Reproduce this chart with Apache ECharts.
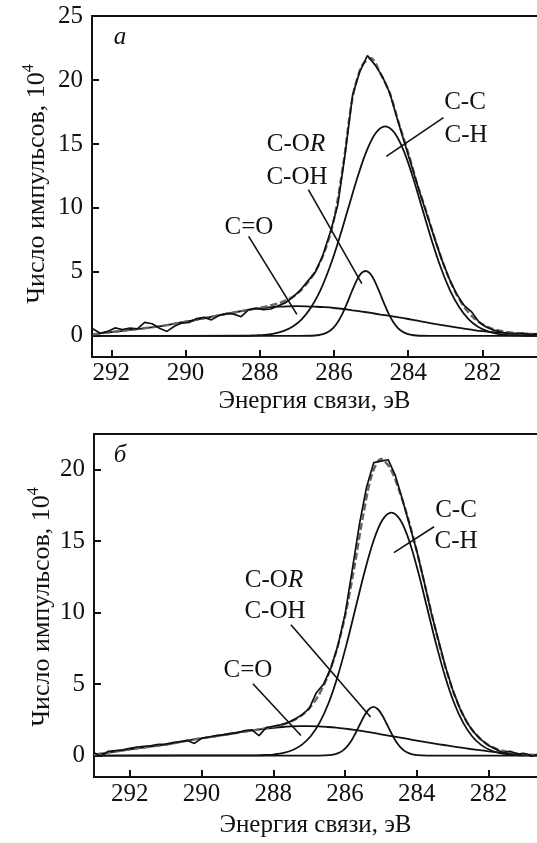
<!DOCTYPE html>
<html>
<head>
<meta charset="utf-8">
<script src="https://cdn.jsdelivr.net/npm/echarts@6/dist/echarts.min.js"></script>
<style>
  html, body { margin: 0; padding: 0; background: #fff; }
  #chart { width: 537px; height: 843px; }
</style>
</head>
<body>
<div id="chart"></div>
<script>
// ---- panel a ----
// broad C=O component and fitted envelope share one grid (eV)
const energyA = [292.5, 292.25, 292, 291.75, 291.5, 291.25, 291, 290.75, 290.5, 290.25, 290,
  289.75, 289.5, 289.25, 289, 288.75, 288.5, 288.25, 288, 287.75, 287.5, 287.25, 287,
  286.75, 286.5, 286.25, 286, 285.75, 285.5, 285.25, 285, 284.75, 284.5, 284.25, 284,
  283.75, 283.5, 283.25, 283, 282.75, 282.5, 282.25, 282, 281.75, 281.5, 281.25, 281,
  280.75, 280.5];
const coA = [0.12, 0.21, 0.30, 0.38, 0.47, 0.55, 0.64, 0.73, 0.84, 0.98, 1.11, 1.24, 1.38,
  1.52, 1.66, 1.80, 1.93, 2.05, 2.15, 2.23, 2.28, 2.31, 2.32, 2.31, 2.28, 2.24, 2.18, 2.10,
  2.00, 1.90, 1.79, 1.67, 1.56, 1.44, 1.32, 1.19, 1.05, 0.92, 0.80, 0.68, 0.56, 0.46, 0.37,
  0.30, 0.25, 0.21, 0.18, 0.16, 0.15];
const envA = [0.12, 0.21, 0.30, 0.38, 0.47, 0.55, 0.64, 0.73, 0.84, 0.98, 1.11, 1.24, 1.38,
  1.52, 1.66, 1.80, 1.93, 2.07, 2.20, 2.35, 2.54, 2.83, 3.28, 4.01, 5.05, 6.6, 9.1, 13.4,
  18.6, 21.1, 21.7, 20.5, 19.0, 16.6, 14.3, 11.8, 9.6, 7.3, 5.21, 3.53, 2.29, 1.45,
  0.90, 0.57, 0.38, 0.27, 0.20, 0.16, 0.15];

// C-C / C-H component
const ccEnergyA = [292.5, 288.37, 288.12, 287.87, 287.62, 287.37, 287.12, 286.87, 286.62,
  286.37, 286.12, 285.87, 285.62, 285.37, 285.12, 284.87, 284.62, 284.37, 284.12, 283.87,
  283.62, 283.37, 283.12, 282.87, 282.62, 282.37, 282.12, 281.87, 281.62, 281.37, 281.12,
  280.87, 280.5];
const ccA = [0, 0.01, 0.04, 0.08, 0.18, 0.37, 0.72, 1.30, 2.22, 3.54, 5.32, 7.50, 9.93, 12.36,
  14.46, 15.88, 16.38, 15.88, 14.46, 12.36, 9.93, 7.50, 5.32, 3.54, 2.22, 1.30, 0.72, 0.37,
  0.18, 0.08, 0.04, 0.01, 0];

// C-OR / C-OH component
const corEnergyA = [292.5, 286.9, 286.65, 286.525, 286.4, 286.275, 286.15, 286.025, 285.9,
  285.775, 285.65, 285.525, 285.4, 285.275, 285.15, 285.025, 284.9, 284.775, 284.65, 284.525,
  284.4, 284.275, 284.15, 284.025, 283.9, 283.775, 283.65, 283.4, 280.5];
const corA = [0, 0, 0.01, 0.03, 0.07, 0.15, 0.32, 0.61, 1.07, 1.72, 2.54, 3.43, 4.26, 4.86,
  5.07, 4.86, 4.26, 3.43, 2.54, 1.72, 1.07, 0.61, 0.32, 0.15, 0.07, 0.03, 0.01, 0, 0];

// measured spectrum
const expEnergyA = [292.5, 292.3, 292.1, 291.9, 291.7, 291.5, 291.3, 291.1, 290.9, 290.7,
  290.5, 290.3, 290.1, 289.9, 289.7, 289.5, 289.3, 289.1, 288.9, 288.7, 288.5, 288.3, 288.1,
  287.9, 287.7, 287.5, 287.3, 287.1, 286.9, 286.7, 286.5, 286.3, 286.1, 285.9, 285.7, 285.5,
  285.3, 285.1, 284.9, 284.7, 284.5, 284.3, 284.1, 283.9, 283.7, 283.5, 283.3, 283.1, 282.9,
  282.7, 282.5, 282.3, 282.1, 281.9, 281.7, 281.5, 281.3, 281.1, 280.9, 280.7, 280.5];
const expA = [0.55, 0.2, 0.35, 0.62, 0.5, 0.6, 0.55, 1.05, 0.95, 0.6, 0.35, 0.75, 1.0, 1.05,
  1.35, 1.45, 1.25, 1.6, 1.75, 1.7, 1.5, 2.05, 2.15, 2.05, 2.1, 2.35, 2.6, 3.05, 3.6, 4.3,
  5.0, 6.3, 8.1, 10.2, 14.2, 18.8, 20.7, 21.9, 21.2, 20.3, 19.0, 17.0, 15.1, 13.2, 11.3, 9.5,
  7.7, 6.0, 4.5, 3.3, 2.4, 1.9, 1.1, 0.7, 0.45, 0.3, 0.2, 0.15, 0.2, 0.1, 0.15];

// ---- panel b ----
const energyB = [293, 292.75, 292.5, 292.25, 292, 291.75, 291.5, 291.25, 291, 290.75, 290.5,
  290.25, 290, 289.75, 289.5, 289.25, 289, 288.75, 288.5, 288.25, 288, 287.75, 287.5, 287.25,
  287, 286.75, 286.5, 286.25, 286, 285.75, 285.5, 285.25, 285, 284.75, 284.5, 284.25, 284,
  283.75, 283.5, 283.25, 283, 282.75, 282.5, 282.25, 282, 281.75, 281.5, 281.25, 281,
  280.75, 280.5];
const coB = [0.07, 0.16, 0.25, 0.34, 0.44, 0.52, 0.60, 0.68, 0.77, 0.88, 1.00, 1.11, 1.21,
  1.30, 1.40, 1.49, 1.60, 1.70, 1.79, 1.87, 1.94, 2.00, 2.04, 2.06, 2.06, 2.04, 2.00, 1.95,
  1.88, 1.80, 1.71, 1.60, 1.49, 1.38, 1.27, 1.16, 1.05, 0.94, 0.84, 0.74, 0.64, 0.55, 0.46,
  0.38, 0.30, 0.23, 0.17, 0.12, 0.08, 0.05, 0.03];
const envB = [0.07, 0.16, 0.25, 0.34, 0.44, 0.52, 0.60, 0.68, 0.77, 0.88, 1.00, 1.11, 1.21,
  1.30, 1.40, 1.49, 1.60, 1.70, 1.79, 1.90, 2.02, 2.17, 2.39, 2.74, 3.30, 4.16, 5.45, 7.26,
  9.76, 13.07, 16.76, 19.67, 20.75, 20.13, 18.60, 16.65, 14.29, 11.66, 9.02, 6.60, 4.58,
  3.04, 1.94, 1.21, 0.73, 0.44, 0.27, 0.16, 0.10, 0.05, 0.03];

const ccEnergyB = [293, 288.46, 288.21, 287.96, 287.71, 287.46, 287.21, 286.96, 286.71,
  286.46, 286.21, 285.96, 285.71, 285.46, 285.21, 284.96, 284.71, 284.46, 284.21, 283.96,
  283.71, 283.46, 283.21, 282.96, 282.71, 282.46, 282.21, 281.96, 281.71, 281.46, 281.21,
  280.96, 280.5];
const ccB = [0, 0.02, 0.04, 0.09, 0.19, 0.39, 0.75, 1.35, 2.30, 3.68, 5.52, 7.78, 10.31, 12.83,
  15.0, 16.48, 17.0, 16.48, 15.0, 12.83, 10.31, 7.78, 5.52, 3.68, 2.30, 1.35, 0.75, 0.39,
  0.19, 0.09, 0.04, 0.02, 0];

const corEnergyB = [293, 286.96, 286.71, 286.585, 286.46, 286.335, 286.21, 286.085, 285.96,
  285.835, 285.71, 285.585, 285.46, 285.335, 285.21, 285.085, 284.96, 284.835, 284.71,
  284.585, 284.46, 284.335, 284.21, 284.085, 283.96, 283.835, 283.71, 283.46, 280.5];
const corB = [0, 0, 0, 0.01, 0.03, 0.06, 0.15, 0.31, 0.59, 1.00, 1.56, 2.19, 2.80, 3.24, 3.40,
  3.24, 2.80, 2.19, 1.56, 1.00, 0.59, 0.31, 0.15, 0.06, 0.03, 0.01, 0, 0, 0];

const expEnergyB = [293, 292.8, 292.6, 292.4, 292.2, 292, 291.8, 291.6, 291.4, 291.2, 291,
  290.8, 290.6, 290.4, 290.2, 290, 289.8, 289.6, 289.4, 289.2, 289, 288.8, 288.6, 288.4,
  288.2, 288, 287.8, 287.6, 287.4, 287.2, 287, 286.8, 286.6, 286.4, 286.2, 286, 285.8, 285.6,
  285.4, 285.2, 285, 284.8, 284.6, 284.4, 284.2, 284, 283.8, 283.6, 283.4, 283.2, 283, 282.8,
  282.6, 282.4, 282.2, 282, 281.8, 281.6, 281.4, 281.2, 281, 280.8, 280.6];
const expB = [0.2, -0.05, 0.3, 0.35, 0.4, 0.5, 0.6, 0.65, 0.7, 0.78, 0.8, 0.9, 0.98, 1.05,
  0.85, 1.2, 1.3, 1.4, 1.45, 1.55, 1.6, 1.75, 1.8, 1.4, 1.95, 2.05, 2.15, 2.3, 2.55, 2.85,
  3.3, 4.4, 5.0, 6.1, 7.7, 9.9, 13.0, 16.2, 18.8, 20.5, 20.6, 20.7, 19.6, 17.9, 16.1, 14.3,
  12.2, 10.0, 8.1, 6.2, 4.6, 3.3, 2.3, 1.6, 1.1, 0.7, 0.45, 0.2, 0.3, 0.1, 0.15, -0.05, 0.1];

const xTicks = [282, 284, 286, 288, 290, 292];
const yTicksA = [0, 5, 10, 15, 20, 25];
const yTicksB = [0, 5, 10, 15, 20];

// leader lines, in data coordinates: [fromE, fromV, toE, toV]
const leadersA = [
  [283.05, 17.06, 284.59, 14.03],
  [286.69, 11.43, 285.25, 4.08],
  [288.30, 7.78, 287.0, 1.68]
];
const leadersB = [
  [283.52, 16.01, 284.64, 14.20],
  [287.51, 9.16, 285.29, 2.70],
  [288.57, 5.03, 287.23, 1.40]
];

const FONT = "'Liberation Serif', 'DejaVu Serif', serif";
const INK = "#111";
const FS = 25;

function pairs(xs, ys) {
  return xs.map((x, i) => [x, ys[i]]);
}

function xAxisFor(gridIndex, min, max, margin, nameGap) {
  return [
    {
      gridIndex,
      type: "value",
      min,
      max,
      inverse: true,
      axisLine: { onZero: false, lineStyle: { color: INK, width: 2 } },
      axisTick: { inside: true, length: 7, customValues: xTicks, lineStyle: { color: INK, width: 2 } },
      axisLabel: { customValues: xTicks, margin, fontSize: FS, fontFamily: FONT, color: INK },
      splitLine: { show: false },
      name: "Энергия связи, эВ",
      nameLocation: "middle",
      nameGap,
      nameTextStyle: { fontSize: FS, fontFamily: FONT, color: INK }
    },
    {
      gridIndex,
      type: "value",
      position: "top",
      min,
      max,
      inverse: true,
      axisLine: { onZero: false, lineStyle: { color: INK, width: 2 } },
      axisTick: { show: false },
      axisLabel: { show: false },
      splitLine: { show: false }
    }
  ];
}

function yAxisFor(gridIndex, min, max, ticks) {
  return {
    gridIndex,
    type: "value",
    min,
    max,
    axisLine: { show: true, onZero: false, lineStyle: { color: INK, width: 2 } },
    axisTick: { show: true, inside: true, length: 7, customValues: ticks, lineStyle: { color: INK, width: 2 } },
    axisLabel: { customValues: ticks, margin: 9, fontSize: FS, fontFamily: FONT, color: INK },
    splitLine: { show: false }
  };
}

function curve(xIndex, yIndex, data, lineStyle, smooth) {
  return {
    type: "line",
    xAxisIndex: xIndex,
    yAxisIndex: yIndex,
    data,
    smooth,
    showSymbol: false,
    silent: true,
    lineStyle
  };
}

function panelSeries(xIndex, yIndex, p, leaders) {
  const comp = { color: INK, width: 1.8 };
  const cc = curve(xIndex, yIndex, pairs(p.ccE, p.cc), comp, 0.35);
  cc.markLine = {
    silent: true,
    symbol: ["none", "none"],
    label: { show: false },
    lineStyle: { color: INK, width: 1.6, type: "solid" },
    data: leaders.map((l) => [{ coord: [l[0], l[1]] }, { coord: [l[2], l[3]] }])
  };
  return [
    curve(xIndex, yIndex, pairs(p.gridE, p.co), comp, 0.35),
    curve(xIndex, yIndex, pairs(p.corE, p.cor), comp, 0.35),
    cc,
    curve(xIndex, yIndex, pairs(p.gridE, p.env), { color: "#666", width: 2.4, type: [7, 3] }, 0.3),
    curve(xIndex, yIndex, pairs(p.expE, p.exp), { color: INK, width: 1.7 }, false)
  ];
}

function label(x, y, text, italic) {
  return {
    type: "text",
    x,
    y,
    silent: true,
    style: {
      text,
      align: "center",
      verticalAlign: "middle",
      fill: INK,
      font: (italic ? "italic " : "") + FS + "px " + FONT,
      rich: {
        i: { fontStyle: "italic", fontSize: FS, fontFamily: FONT, fill: INK }
      }
    }
  };
}

function yTitle(x, y) {
  return {
    type: "text",
    x,
    y,
    rotation: Math.PI / 2,
    silent: true,
    style: {
      text: "{b|Число импульсов, 10}{s|4}",
      align: "center",
      verticalAlign: "middle",
      rich: {
        b: { fontSize: 26, fontFamily: FONT, fill: INK, lineHeight: 32, verticalAlign: "middle" },
        s: { fontSize: 16, fontFamily: FONT, fill: INK, verticalAlign: "top" }
      }
    }
  };
}

const chart = echarts.init(document.getElementById("chart"), null, { renderer: "canvas" });

chart.setOption({
  animation: false,
  backgroundColor: "#fff",
  grid: [
    { left: 92, right: 0, top: 16, bottom: 486 },
    { left: 94, right: 0, top: 434, bottom: 66 }
  ],
  xAxis: [...xAxisFor(0, 280.53, 292.52, 4, 32), ...xAxisFor(1, 280.65, 293.0, 5, 36)],
  yAxis: [yAxisFor(0, -1.65, 25, yTicksA), yAxisFor(1, -1.5, 22.5, yTicksB)],
  series: [
    ...panelSeries(0, 0, {
      gridE: energyA, co: coA, env: envA,
      ccE: ccEnergyA, cc: ccA, corE: corEnergyA, cor: corA,
      expE: expEnergyA, exp: expA
    }, leadersA),
    ...panelSeries(2, 1, {
      gridE: energyB, co: coB, env: envB,
      ccE: ccEnergyB, cc: ccB, corE: corEnergyB, cor: corB,
      expE: expEnergyB, exp: expB
    }, leadersB)
  ],
  graphic: [
    yTitle(37, 184),
    yTitle(42, 607),
    label(120, 37, "а", true),
    label(465, 102, "C-C"),
    label(466, 135, "C-H"),
    label(296, 144, "C-O{i|R}"),
    label(297, 177, "C-OH"),
    label(249, 227, "C=O"),
    label(120, 455, "б", true),
    label(456, 510, "C-C"),
    label(456, 541, "C-H"),
    label(274, 580, "C-O{i|R}"),
    label(275, 611, "C-OH"),
    label(248, 670, "C=O")
  ]
});
</script>
</body>
</html>
